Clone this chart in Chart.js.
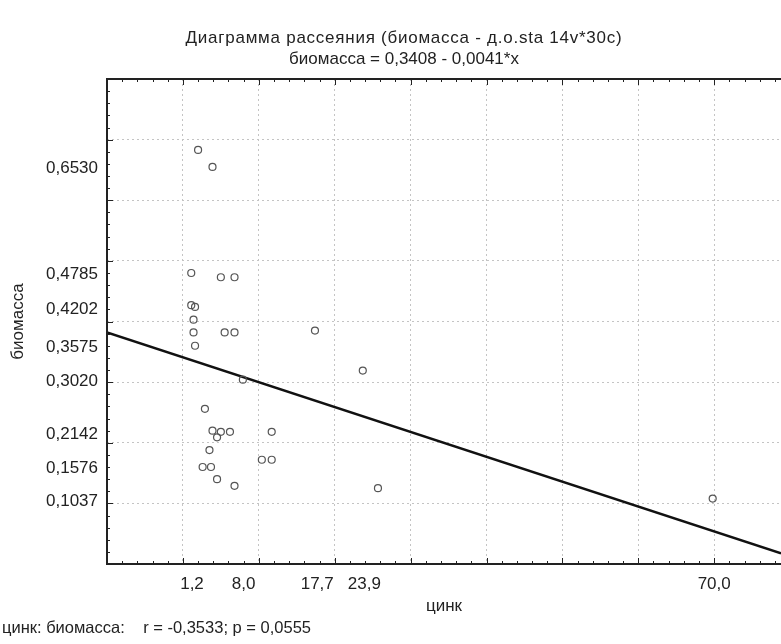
<!DOCTYPE html>
<html>
<head>
<meta charset="utf-8">
<script src="https://cdn.jsdelivr.net/npm/chart.js@4.4.1/dist/chart.umd.min.js"></script>
<style>
  html, body { margin: 0; padding: 0; background: #fff; }
</style>
</head>
<body>
<canvas id="scatterChart" width="781" height="644"></canvas>
<script>
// values
const zinc = [2.0, 3.9, 1.1, 5.0, 6.8, 1.1, 1.6, 1.4, 1.4, 5.5,
              6.8, 17.4, 1.6, 7.9, 2.9, 3.9, 5.0, 4.5, 6.2, 11.7,
              3.5, 10.4, 11.7, 2.6, 3.7, 4.5, 6.8, 23.7, 25.7, 69.8];
const biomass = [0.683, 0.655, 0.480, 0.473, 0.473, 0.427, 0.424, 0.403, 0.382, 0.382,
                 0.382, 0.385, 0.360, 0.304, 0.256, 0.220, 0.218, 0.209, 0.218, 0.218,
                 0.188, 0.172, 0.172, 0.160, 0.160, 0.140, 0.129, 0.319, 0.125, 0.108];

const xLabelTicks = [1.2, 8.0, 17.7, 23.9, 70.0];
const yLabelTicks = [0.6530, 0.4785, 0.4202, 0.3575, 0.3020, 0.2142, 0.1576, 0.1037];
const xGrid = [0, 10, 20, 30, 40, 50, 60, 70];
const yGrid = [0.1, 0.2, 0.3, 0.4, 0.5, 0.6, 0.7];

const xRange = [-10, 78.8];
const yRange = [0, 0.8];
const fitA = 0.3408;
const fitB = -0.0041;

const titleLines = ['Диаграмма рассеяния (биомасса - д.o.sta 14v*30c)', 'биомасса = 0,3408 - 0,0041*x'];
const footer = 'цинк: биомасса:    r = -0,3533; p = 0,0555';

const FONT = '"Liberation Sans", Arial, sans-serif';
const TEXT = '#222';
Chart.defaults.font.family = FONT;
Chart.defaults.font.size = 17;
Chart.defaults.color = TEXT;

const comma = (v, d) => Number(v).toFixed(d).replace('.', ',');

// frame, small tick marks and the loose texts
const framePlugin = {
    id: 'frame',
    afterDraw(chart) {
        const { ctx, chartArea: a, scales: { x, y } } = chart;
        ctx.save();
        ctx.strokeStyle = '#222';
        ctx.lineWidth = 1;
        ctx.beginPath();
        for (let v = xRange[0]; v <= xRange[1]; v += 2) {
            const px = Math.round(x.getPixelForValue(v)) + 0.5;
            const len = v % 10 === 0 ? 6 : 3;
            ctx.moveTo(px, a.bottom); ctx.lineTo(px, a.bottom - len);
            ctx.moveTo(px, a.top); ctx.lineTo(px, a.top + len);
        }
        for (let i = 0; i <= 40; i++) {
            const py = Math.round(y.getPixelForValue(i * 0.02)) + 0.5;
            const len = i % 5 === 0 ? 6 : 3;
            ctx.moveTo(a.left, py); ctx.lineTo(a.left + len, py);
        }
        ctx.stroke();

        ctx.lineWidth = 2;
        ctx.beginPath();
        ctx.moveTo(a.right, a.top);
        ctx.lineTo(a.left, a.top);
        ctx.lineTo(a.left, a.bottom);
        ctx.lineTo(a.right, a.bottom);
        ctx.stroke();

        ctx.fillStyle = TEXT;
        ctx.font = '17px ' + FONT;
        ctx.textAlign = 'center';
        ctx.textBaseline = 'middle';
        ctx.letterSpacing = '0.75px';
        ctx.fillText(titleLines[0], 404, 38);
        ctx.letterSpacing = '0px';
        ctx.fillText(titleLines[1], 404, 59);
        ctx.textAlign = 'left';
        ctx.font = '16.5px ' + FONT;
        ctx.fillText(footer, 2, 628);
        ctx.restore();
    }
};

const gridOpts = { color: '#c4c4c4', lineWidth: 1, drawTicks: false };
const noSidePad = s => { s.paddingLeft = 0; s.paddingRight = 0; s.paddingTop = 0; s.paddingBottom = 0; };

new Chart(document.getElementById('scatterChart'), {
    type: 'scatter',
    data: {
        datasets: [{
            label: 'биомасса',
            data: zinc.map((v, i) => ({ x: v, y: biomass[i] })),
            pointRadius: 3.5,
            pointBorderWidth: 1.2,
            borderColor: '#555',
            backgroundColor: 'rgba(255,255,255,0)'
        }, {
            type: 'line',
            label: 'fit',
            data: xRange.map(v => ({ x: v, y: fitA + fitB * v })),
            borderColor: '#111',
            borderWidth: 2.5,
            pointRadius: 0,
            fill: false
        }]
    },
    options: {
        responsive: false,
        animation: false,
        layout: { autoPadding: false, padding: { top: 79, bottom: 25, left: 0, right: 0 } },
        plugins: {
            legend: { display: false },
            tooltip: { enabled: false }
        },
        scales: {
            x: {
                type: 'linear', position: 'bottom',
                min: xRange[0], max: xRange[1],
                grid: gridOpts,
                border: { display: false, dash: [2, 3] },
                ticks: { display: false },
                afterBuildTicks: s => { s.ticks = xGrid.map(v => ({ value: v })); },
                afterFit: s => { s.height = 0; noSidePad(s); }
            },
            x2: {
                type: 'linear', position: 'bottom',
                min: xRange[0], max: xRange[1],
                grid: { display: false, drawTicks: false },
                border: { display: false },
                ticks: { padding: 10, autoSkip: false, maxRotation: 0, callback: v => comma(v, 1) },
                afterBuildTicks: s => { s.ticks = xLabelTicks.map(v => ({ value: v })); },
                title: { display: true, text: 'цинк', padding: { top: 0, bottom: 2 } },
                afterFit: s => { s.height = 55; noSidePad(s); }
            },
            y: {
                type: 'linear', position: 'left',
                min: yRange[0], max: yRange[1],
                grid: gridOpts,
                border: { display: false, dash: [2, 3] },
                ticks: { display: false },
                afterBuildTicks: s => { s.ticks = yGrid.map(v => ({ value: v })); },
                afterFit: s => { s.width = 0; noSidePad(s); }
            },
            y2: {
                type: 'linear', position: 'left',
                min: yRange[0], max: yRange[1],
                grid: { display: false, drawTicks: false },
                border: { display: false },
                ticks: { padding: 9, autoSkip: false, callback: v => comma(v, 4) },
                afterBuildTicks: s => { s.ticks = yLabelTicks.map(v => ({ value: v })); },
                title: { display: true, text: 'биомасса', padding: { top: 8, bottom: 0 } },
                afterFit: s => { s.width = 107; noSidePad(s); }
            }
        }
    },
    plugins: [framePlugin]
});
</script>
</body>
</html>
